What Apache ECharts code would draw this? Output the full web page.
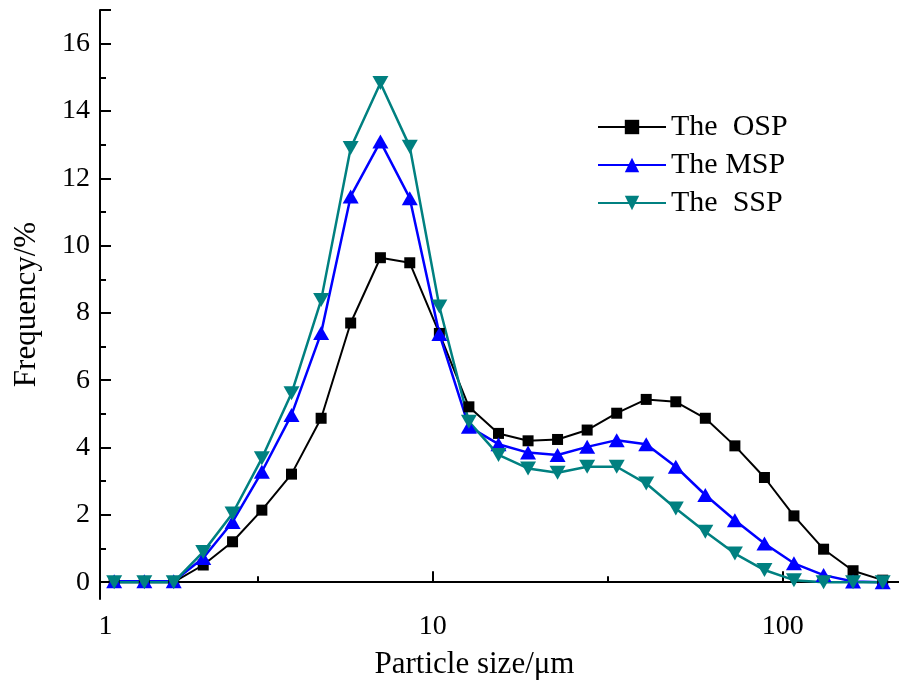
<!DOCTYPE html>
<html>
<head>
<meta charset="utf-8">
<script src="https://cdn.jsdelivr.net/npm/echarts@6/dist/echarts.min.js"></script>
<style>
  html, body { margin: 0; padding: 0; background: #fff; }
  #chart { width: 899px; height: 680px; }
</style>
</head>
<body>
<div id="chart"></div>
<script>
// particle size classes (µm)
const sizes = [1.23, 1.50, 1.82, 2.21, 2.68, 3.25, 3.95, 4.80, 5.83, 7.09, 8.60, 10.45, 12.69, 15.42,
  18.73, 22.74, 27.63, 33.56, 40.75, 49.51, 60.12, 73.03, 88.71, 107.7, 130.9, 158.9, 193.1];

const seriesNames = ["The  OSP", "The MSP", "The  SSP"];

const osp = [0, 0, 0, 0.51, 1.2, 2.14, 3.21, 4.87, 7.7, 9.64, 9.49, 7.39, 5.21, 4.42,
  4.2, 4.24, 4.52, 5.02, 5.43, 5.36, 4.87, 4.05, 3.11, 1.97, 0.98, 0.34, 0.06];
const msp = [0.03, 0.03, 0.03, 0.72, 1.79, 3.28, 4.97, 7.4, 11.46, 13.09, 11.41, 7.37, 4.62, 4.1,
  3.85, 3.78, 4.02, 4.22, 4.1, 3.43, 2.59, 1.84, 1.15, 0.56, 0.21, 0.02, 0];
const ssp = [0, 0, 0, 0.9, 2.04, 3.68, 5.61, 8.38, 12.9, 14.83, 12.94, 8.19, 4.77, 3.78,
  3.38, 3.25, 3.43, 3.43, 2.93, 2.19, 1.5, 0.85, 0.36, 0.06, 0, 0, 0];

// axis ticks
const xMajor = [10, 100];
const xMinor = [3.162, 31.62];
const yMajor = [0, 2, 4, 6, 8, 10, 12, 14, 16, 17];
const yMinor = [1, 3, 5, 7, 9, 11, 13, 15];
const yLabels = [0, 2, 4, 6, 8, 10, 12, 14, 16];

const xMin = 1.1205, xMax = 229.6;
const yMin = -0.5, yMax = 17;

const font = "Liberation Serif";
const pairs = (vals) => sizes.map((s, i) => [s, vals[i]]);

const chart = echarts.init(document.getElementById("chart"));

const tickLine = { color: "#000", width: 2 };

const option = {
  animation: false,
  backgroundColor: "#fff",
  grid: { left: 100, right: -10, top: 10, bottom: 81, outerBoundsMode: "none" },
  legend: {
    orient: "vertical",
    left: 597,
    top: 112,
    padding: 0,
    itemGap: 8,
    itemWidth: 68,
    itemHeight: 18,
    data: seriesNames,
    textStyle: { fontFamily: font, fontSize: 30, lineHeight: 30, color: "#000" },
  },
  xAxis: [
    {
      type: "log",
      logBase: 10,
      min: xMin,
      max: xMax,
      name: "Particle size/μm",
      nameLocation: "middle",
      nameGap: 50,
      nameTextStyle: { fontFamily: font, fontSize: 31, color: "#000", padding: [0, 60, 0, 0] },
      axisLine: { lineStyle: { color: "#000", width: 2 } },
      axisTick: { inside: true, length: 11, lineStyle: tickLine, customValues: xMajor },
      splitLine: { show: false },
      axisLabel: {
        fontFamily: font,
        fontSize: 28,
        color: "#000",
        margin: 14,
        customValues: [xMin, 10, 100],
        formatter: (v) => (Math.abs(v - xMin) < 0.01 ? "{s|1}" : String(Math.round(v))),
        rich: { s: { fontFamily: font, fontSize: 28, color: "#000", padding: [0, 0, 0, 11] } },
      },
    },
    {
      // second log axis on the same line, only for the half-decade minor ticks
      type: "log",
      logBase: 10,
      position: "bottom",
      min: xMin,
      max: xMax,
      axisLine: { show: false },
      axisTick: { inside: true, length: 6, lineStyle: tickLine, customValues: xMinor },
      axisLabel: { show: false },
      splitLine: { show: false },
    },
  ],
  yAxis: [
    {
      type: "value",
      min: yMin,
      max: yMax,
      name: "Frequency/%",
      nameLocation: "middle",
      nameGap: 58,
      nameTextStyle: { fontFamily: font, fontSize: 31, color: "#000" },
      axisLine: { show: true, lineStyle: { color: "#000", width: 2 } },
      axisTick: { show: true, inside: true, length: 11, lineStyle: tickLine, customValues: yMajor },
      splitLine: { show: false },
      axisLabel: {
        fontFamily: font,
        fontSize: 28,
        color: "#000",
        margin: 10,
        customValues: yLabels,
      },
    },
    {
      type: "value",
      position: "left",
      min: yMin,
      max: yMax,
      axisLine: { show: false },
      axisTick: { show: true, inside: true, length: 6, lineStyle: tickLine, customValues: yMinor },
      axisLabel: { show: false },
      splitLine: { show: false },
    },
  ],
  series: [
    {
      name: seriesNames[0],
      type: "line",
      data: pairs(osp),
      symbol: "rect",
      symbolSize: 11,
      lineStyle: { color: "#000", width: 2 },
      itemStyle: { color: "#000" },
    },
    {
      name: seriesNames[1],
      type: "line",
      data: pairs(msp),
      symbol: "triangle",
      symbolSize: [16, 14],
      lineStyle: { color: "#0000ff", width: 2.5 },
      itemStyle: { color: "#0000ff" },
    },
    {
      name: seriesNames[2],
      type: "line",
      data: pairs(ssp),
      symbol: "triangle",
      symbolRotate: 180,
      symbolSize: [16, 14],
      lineStyle: { color: "#008080", width: 2.5 },
      itemStyle: { color: "#008080" },
    },
  ],
};

chart.setOption(option);
</script>
</body>
</html>
